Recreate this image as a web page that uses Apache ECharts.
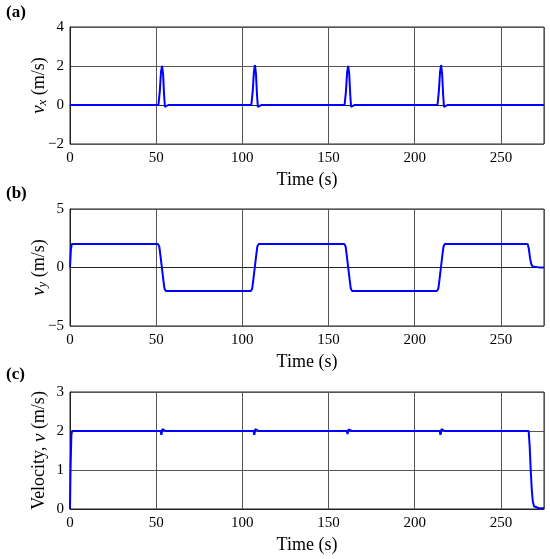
<!DOCTYPE html>
<html>
<head>
<meta charset="utf-8">
<script src="https://cdn.jsdelivr.net/npm/echarts@6/dist/echarts.min.js"></script>
<style>
  html, body { margin: 0; padding: 0; background: #fff; }
  #chart { width: 550px; height: 559px; }
</style>
</head>
<body>
<div id="chart"></div>
<script>
// panel (a): v_x
var vxTime = [0, 51.3, 52.1, 52.8, 53.4, 54.0, 54.6, 55.1, 55.6, 56.2, 57.0, 80.0,
  105.2, 106.0, 106.7, 107.3, 107.9, 108.5, 109.0, 109.5, 110.1, 111.0, 135.0,
  159.3, 160.1, 160.8, 161.4, 162.0, 162.6, 163.1, 163.6, 164.2, 165.0, 190.0,
  213.2, 214.0, 214.7, 215.3, 215.9, 216.5, 217.0, 217.5, 218.1, 219.0, 240.0,
  267.0, 267.5, 268.0, 268.5, 275];
var vxVals = [0, 0, 0.7, 1.7, 2.0, 1.6, 0.5, -0.1, -0.12, 0, 0, 0,
  0, 0.7, 1.7, 2.05, 1.6, 0.5, -0.1, -0.12, 0, 0, 0,
  0, 0.7, 1.7, 2.0, 1.6, 0.5, -0.1, -0.12, 0, 0, 0,
  0, 0.7, 1.7, 2.05, 1.6, 0.5, -0.1, -0.12, 0, 0, 0,
  0, -0.08, 0, 0, 0];

// panel (b): v_y
var vyTime = [0, 0.5, 1.0, 51.0, 51.8, 52.5, 53.3, 54.1, 54.8, 55.5, 56.5, 80.0,
  105.0, 105.7, 106.4, 107.2, 108.0, 108.7, 109.4, 110.4, 135.0,
  159.2, 159.9, 160.6, 161.4, 162.2, 162.9, 163.6, 164.6, 190.0,
  213.0, 213.7, 214.4, 215.2, 216.0, 216.7, 217.4, 218.4, 240.0,
  265.5, 266.2, 266.9, 267.6, 268.4, 269.5, 272.0, 275];
var vyVals = [0, 1.5, 2, 2, 1.8, 1.0, 0, -1.0, -1.8, -2, -2, -2,
  -2, -1.8, -1.0, 0, 1.0, 1.8, 2, 2, 2,
  2, 1.8, 1.0, 0, -1.0, -1.8, -2, -2, -2,
  -2, -1.8, -1.0, 0, 1.0, 1.8, 2, 2, 2,
  2, 1.6, 0.8, 0.3, 0.08, 0.03, 0.01, 0];

// panel (c): speed v
var vTime = [0, 0.3, 0.8, 1.2, 25.0,
  52.6, 53.0, 53.3, 53.6, 54.0, 54.5, 55.5, 80.0,
  106.5, 106.9, 107.2, 107.5, 107.9, 108.4, 109.4, 135.0,
  160.6, 161.0, 161.3, 161.6, 162.0, 162.5, 163.5, 190.0,
  214.5, 214.9, 215.2, 215.5, 215.9, 216.4, 217.4, 240.0,
  266.1, 266.7, 267.3, 267.9, 268.5, 269.2, 270.0, 272.0, 275];
var vVals = [0, 1.0, 1.9, 2, 2,
  2, 1.9, 1.96, 2.05, 2.02, 2, 2, 2,
  2, 1.9, 1.96, 2.05, 2.02, 2, 2, 2,
  2, 1.92, 1.97, 2.04, 2.02, 2, 2, 2,
  2, 1.9, 1.96, 2.05, 2.02, 2, 2, 2,
  2, 1.6, 1.0, 0.5, 0.2, 0.07, 0.03, 0.02, 0.02];

var font = "'Liberation Serif', 'DejaVu Serif', serif";
var gridTops = [27, 209, 392];
var yRanges = [[-2, 4, 2], [-5, 5, 5], [0, 3, 1]];
var yNameGaps = [21, 21, 21];
var yNames = [
  "{i|v}{s|x} (m/s)",
  "{i|v}{s|y} (m/s)",
  "Velocity, {i|v} (m/s)"
];

function pairs(t, v) {
  return t.map(function (x, i) { return [x, v[i]]; });
}

var chartDom = document.getElementById("chart");
var myChart = echarts.init(chartDom);

var grids = [], xAxes = [], yAxes = [], series = [];
var allData = [pairs(vxTime, vxVals), pairs(vyTime, vyVals), pairs(vTime, vVals)];

for (var k = 0; k < 3; k++) {
  grids.push({
    left: 70, right: 6, top: gridTops[k], height: 117,
    show: true, borderColor: "#222", borderWidth: 1, backgroundColor: "#fff"
  });
  xAxes.push({
    type: "value", gridIndex: k, min: 0, max: 275, interval: 50,
    name: "Time (s)", nameLocation: "middle", nameGap: 27,
    nameMoveOverlap: false,
    nameTextStyle: { fontFamily: font, fontSize: 18, color: "#000" },
    axisLine: { show: true, lineStyle: { color: "#222" } },
    axisTick: { show: false },
    axisLabel: { fontFamily: font, fontSize: 15, color: "#000", margin: 7,
      showMaxLabel: false },
    splitLine: { show: true, lineStyle: { color: "#555", width: 1 } }
  });
  yAxes.push({
    type: "value", gridIndex: k,
    min: yRanges[k][0], max: yRanges[k][1], interval: yRanges[k][2],
    name: yNames[k], nameLocation: "middle", nameGap: yNameGaps[k],
    nameMoveOverlap: false,
    nameTextStyle: {
      fontFamily: font, fontSize: 18, color: "#000",
      rich: {
        i: { fontFamily: font, fontStyle: "italic", fontSize: 19, color: "#000" },
        s: { fontFamily: font, fontStyle: "italic", fontSize: 13, color: "#000",
          padding: [7, 0, 0, 0] }
      }
    },
    axisLine: { show: true, lineStyle: { color: "#222" } },
    axisTick: { show: false },
    axisLabel: { fontFamily: font, fontSize: 15, color: "#000", margin: 6,
      formatter: function (v) { return v < 0 ? "\u2212" + Math.abs(v) : String(v); } },
    splitLine: { show: true, lineStyle: { color: "#555", width: 1 } }
  });
  series.push({
    type: "line", xAxisIndex: k, yAxisIndex: k,
    data: allData[k], showSymbol: false, smooth: false,
    lineStyle: { color: "#0000ff", width: 2 },
    itemStyle: { color: "#0000ff" },
    z: 5
  });
}

var option = {
  animation: false,
  grid: grids,
  xAxis: xAxes,
  yAxis: yAxes,
  series: series,
  graphic: [
    { type: "text", left: 6, top: 4, style: { text: "(a)", fontFamily: font, fontWeight: "bold", fontSize: 17, fill: "#000" } },
    { type: "text", left: 6, top: 185, style: { text: "(b)", fontFamily: font, fontWeight: "bold", fontSize: 17, fill: "#000" } },
    { type: "text", left: 6, top: 366, style: { text: "(c)", fontFamily: font, fontWeight: "bold", fontSize: 17, fill: "#000" } }
  ]
};

option && myChart.setOption(option);
</script>
</body>
</html>
